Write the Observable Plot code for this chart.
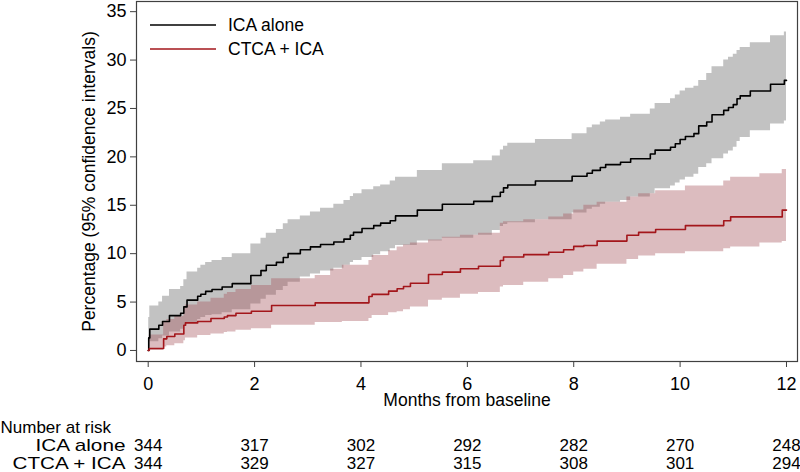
<!DOCTYPE html>
<html>
<head>
<meta charset="utf-8">
<script src="https://cdn.jsdelivr.net/npm/d3@7"></script>
<script src="https://cdn.jsdelivr.net/npm/@observablehq/plot@0.6"></script>
<style>
  html, body { margin: 0; padding: 0; background: #fff; }
  #wrap { position: relative; width: 800px; height: 472px; font-family: "Liberation Sans", Arial, sans-serif; }
  #legend { position: absolute; left: 150px; top: 13px; font-size: 17.5px; color: #000; }
  .lrow { display: flex; align-items: center; height: 24px; }
  .lrow svg { width: 66px; height: 4px; margin-right: 12px; }
</style>
</head>
<body>
<div id="wrap">
  <div id="chart"></div>
  <div id="legend"></div>
</div>
<script>
// ----- Data -----
const groups = ["ICA alone", "CTCA + ICA"];
const groupColors = ["#000000", "#a3161b"];
const bandColors = ["#c2c2c2", "rgb(168,88,94)"];

const icaT   = [0, 0.01, 0.03, 0.20, 0.27, 0.40, 0.61, 0.67, 0.73, 0.93, 0.99, 1.08, 1.20, 1.39, 1.58, 1.93, 2.12, 2.22, 2.41, 2.54, 2.63, 2.86, 3.05, 3.24, 3.49, 3.68, 3.80, 3.86, 4.02, 4.24, 4.37, 4.55, 4.65, 5.06, 5.53, 6.12, 6.47, 6.62, 6.68, 6.76, 7.28, 7.97, 8.25, 8.35, 8.50, 8.60, 8.88, 9.07, 9.44, 9.53, 9.82, 9.91, 10.00, 10.10, 10.26, 10.35, 10.50, 10.60, 10.82, 10.91, 11.00, 11.07, 11.13, 11.32, 11.70, 11.96, 12.00];
const icaEst = [0, 1.3, 2.2, 2.6, 3.0, 3.6, 3.85, 4.5, 5.2, 5.6, 5.8, 6.1, 6.3, 6.55, 6.9, 7.75, 8.25, 8.8, 9.1, 9.6, 10.0, 10.4, 10.7, 10.95, 11.2, 11.5, 11.9, 12.2, 12.6, 12.9, 13.15, 13.4, 13.9, 14.5, 15.1, 15.4, 15.9, 16.35, 16.8, 17.1, 17.5, 18.0, 18.3, 18.6, 18.9, 19.2, 19.45, 19.8, 20.3, 20.7, 21.0, 21.35, 21.8, 22.1, 22.4, 23.2, 23.6, 24.35, 24.8, 25.1, 25.4, 26.0, 26.3, 26.8, 27.5, 27.9, 27.9];
const icaLo  = [0, 0.4, 0.9, 1.2, 1.5, 1.9, 2.2, 2.5, 2.9, 3.2, 3.4, 3.6, 3.7, 3.9, 4.2, 4.8, 5.3, 5.7, 6.2, 6.6, 7.05, 7.6, 7.9, 8.2, 8.5, 8.8, 9.1, 9.3, 9.6, 9.9, 10.2, 10.5, 10.85, 11.3, 11.6, 11.9, 12.4, 12.8, 13.0, 13.2, 13.5, 14.2, 14.6, 14.8, 15.1, 15.3, 15.5, 15.85, 16.2, 16.7, 17.0, 17.3, 17.6, 17.9, 18.2, 18.9, 19.3, 19.8, 20.3, 20.6, 21.0, 21.6, 22.0, 22.7, 23.4, 23.7, 23.7];
const icaHi  = [0, 3.4, 4.6, 5.0, 5.6, 6.3, 6.6, 7.3, 8.1, 8.5, 8.8, 9.1, 9.3, 9.6, 10.0, 11.0, 11.6, 12.1, 12.5, 13.1, 13.5, 13.9, 14.3, 14.7, 15.1, 15.5, 15.9, 16.2, 16.6, 16.9, 17.1, 17.5, 17.9, 18.6, 19.3, 19.6, 20.1, 20.7, 21.1, 21.4, 21.8, 22.4, 23.0, 23.3, 23.6, 23.8, 24.1, 24.4, 24.95, 25.5, 26.0, 26.4, 26.8, 27.1, 27.3, 27.9, 28.6, 29.3, 30.0, 30.3, 30.6, 31.0, 31.3, 31.8, 32.5, 32.9, 32.9];

const ctcaT   = [0, 0.02, 0.29, 0.35, 0.50, 0.67, 0.70, 0.93, 1.18, 1.43, 1.49, 1.65, 1.94, 2.32, 3.14, 3.43, 3.65, 4.15, 4.21, 4.52, 4.68, 4.80, 4.93, 5.27, 5.53, 5.87, 6.21, 6.62, 6.68, 7.06, 7.53, 7.81, 8.00, 8.19, 8.44, 9.00, 9.22, 9.54, 10.10, 10.82, 10.95, 11.50, 11.92, 12.00];
const ctcaEst = [0, 0.2, 1.2, 1.45, 1.7, 2.6, 2.85, 3.0, 3.3, 3.45, 3.6, 3.85, 4.05, 4.65, 4.92, 4.92, 4.92, 5.58, 5.79, 6.13, 6.37, 6.61, 6.95, 7.85, 8.09, 8.44, 8.7, 9.3, 9.65, 9.9, 10.15, 10.4, 10.75, 10.85, 11.3, 11.9, 12.2, 12.5, 12.9, 13.4, 13.8, 13.8, 14.5, 14.5];
const ctcaLo  = [0, 0.0, 0.35, 0.5, 0.7, 1.0, 1.3, 1.55, 1.7, 1.85, 1.9, 2.1, 2.25, 2.6, 2.9, 2.9, 3.0, 3.3, 3.6, 3.9, 4.0, 4.2, 4.5, 5.2, 5.4, 5.8, 6.0, 6.55, 6.7, 7.05, 7.4, 7.75, 8.1, 8.4, 8.9, 9.4, 9.75, 10.0, 10.2, 10.5, 10.7, 11.1, 11.25, 11.25];
const ctcaHi  = [0, 1.6, 2.9, 3.2, 3.5, 4.4, 4.7, 5.0, 5.4, 5.8, 6.0, 6.3, 6.7, 7.4, 7.75, 8.4, 8.8, 9.3, 9.8, 10.3, 10.7, 10.9, 11.1, 11.4, 11.7, 11.9, 12.1, 13.15, 13.3, 13.5, 13.8, 14.1, 14.5, 15.0, 15.3, 15.85, 16.2, 16.5, 17.0, 17.5, 17.9, 18.25, 18.7, 18.7];

const riskTimes = [0, 2, 4, 6, 8, 10, 12];
const riskICA   = [344, 317, 302, 292, 282, 270, 248];
const riskCTCA  = [344, 329, 327, 315, 308, 301, 294];

const xTicks = [0, 2, 4, 6, 8, 10, 12];
const yTicks = [0, 5, 10, 15, 20, 25, 30, 35];

// ----- Build tables -----
const ica = icaT.map((t, i) => ({t, est: icaEst[i], lo: icaLo[i], hi: icaHi[i]}));
const ctca = ctcaT.map((t, i) => ({t, est: ctcaEst[i], lo: ctcaLo[i], hi: ctcaHi[i]}));
const riskRows = [];
riskTimes.forEach((t, i) => {
  riskRows.push({t, n: riskICA[i], row: 0});
  riskRows.push({t, n: riskCTCA[i], row: 1});
});

const font = "Liberation Sans, Arial, sans-serif";
const tableSize = 17;

const chart = Plot.plot({
  width: 800,
  height: 472,
  marginLeft: 136,
  marginRight: 3,
  marginTop: 1,
  marginBottom: 111,
  style: {fontFamily: font, fontSize: "18px", color: "#000", background: "#fff", overflow: "visible"},
  x: {domain: [-0.22, 12.207]},
  y: {domain: [-1.14, 36.05]},
  marks: [
    Plot.areaY(ica, {x: "t", y1: "lo", y2: "hi", curve: "step-after", fill: bandColors[0]}),
    Plot.areaY(ctca, {x: "t", y1: "lo", y2: "hi", curve: "step-after", fill: bandColors[1], fillOpacity: 0.4}),
    Plot.line(ica, {x: "t", y: "est", curve: "step-after", stroke: groupColors[0], strokeWidth: 1.6}),
    Plot.line(ctca, {x: "t", y: "est", curve: "step-after", stroke: groupColors[1], strokeWidth: 1.6}),
    Plot.frame({stroke: "#404040", strokeWidth: 1.2}),
    Plot.axisY({ticks: yTicks, tickSize: 6, tickPadding: 4, label: null, fontSize: 18, stroke: "#404040"}),
    Plot.axisX({ticks: xTicks, tickSize: 6, tickPadding: 10, label: null, fontSize: 18, stroke: "#404040"}),
    Plot.text(["Percentage (95% confidence intervals)"], {frameAnchor: "left", dx: -47, rotate: -90, textAnchor: "middle", lineAnchor: "middle", fontSize: 17.5, fill: "#000"}),
    Plot.text(["Months from baseline"], {frameAnchor: "bottom", dy: 39, lineAnchor: "middle", fontSize: 17.5, fill: "#000"}),
    Plot.text(["Number at risk"], {frameAnchor: "bottom-left", dx: -136, dy: 66, textAnchor: "start", lineAnchor: "middle", fontSize: tableSize, fill: "#000"}),
    Plot.text([groups[0]], {frameAnchor: "bottom-left", dx: -11, dy: 84, textAnchor: "end", lineAnchor: "middle", fontSize: tableSize, fill: "#000"}),
    Plot.text([groups[1]], {frameAnchor: "bottom-left", dx: -11, dy: 102, textAnchor: "end", lineAnchor: "middle", fontSize: tableSize, fill: "#000"}),
    Plot.text(riskRows.filter(d => d.row === 0), {x: "t", text: "n", frameAnchor: "bottom", dy: 84, lineAnchor: "middle", fontSize: tableSize, fill: "#000"}),
    Plot.text(riskRows.filter(d => d.row === 1), {x: "t", text: "n", frameAnchor: "bottom", dy: 102, lineAnchor: "middle", fontSize: tableSize, fill: "#000"})
  ]
});
document.getElementById("chart").appendChild(chart);

// The reference's row labels are set a little wider than the other texts
const rowLabelWidths = {"ICA alone": 90, "CTCA + ICA": 113};
chart.querySelectorAll("text").forEach(el => {
  const w = rowLabelWidths[el.textContent];
  if (w) {
    el.setAttribute("textLength", w);
    el.setAttribute("lengthAdjust", "spacingAndGlyphs");
  }
});

// Legend (inside plot, top-left)
const legend = document.getElementById("legend");
groups.forEach((g, i) => {
  const row = document.createElement("div");
  row.className = "lrow";
  row.innerHTML = `<svg viewBox="0 0 66 4"><line x1="0" y1="2" x2="66" y2="2" stroke="${groupColors[i]}" stroke-width="1.6"/></svg><span>${g}</span>`;
  legend.appendChild(row);
});
</script>
</body>
</html>
